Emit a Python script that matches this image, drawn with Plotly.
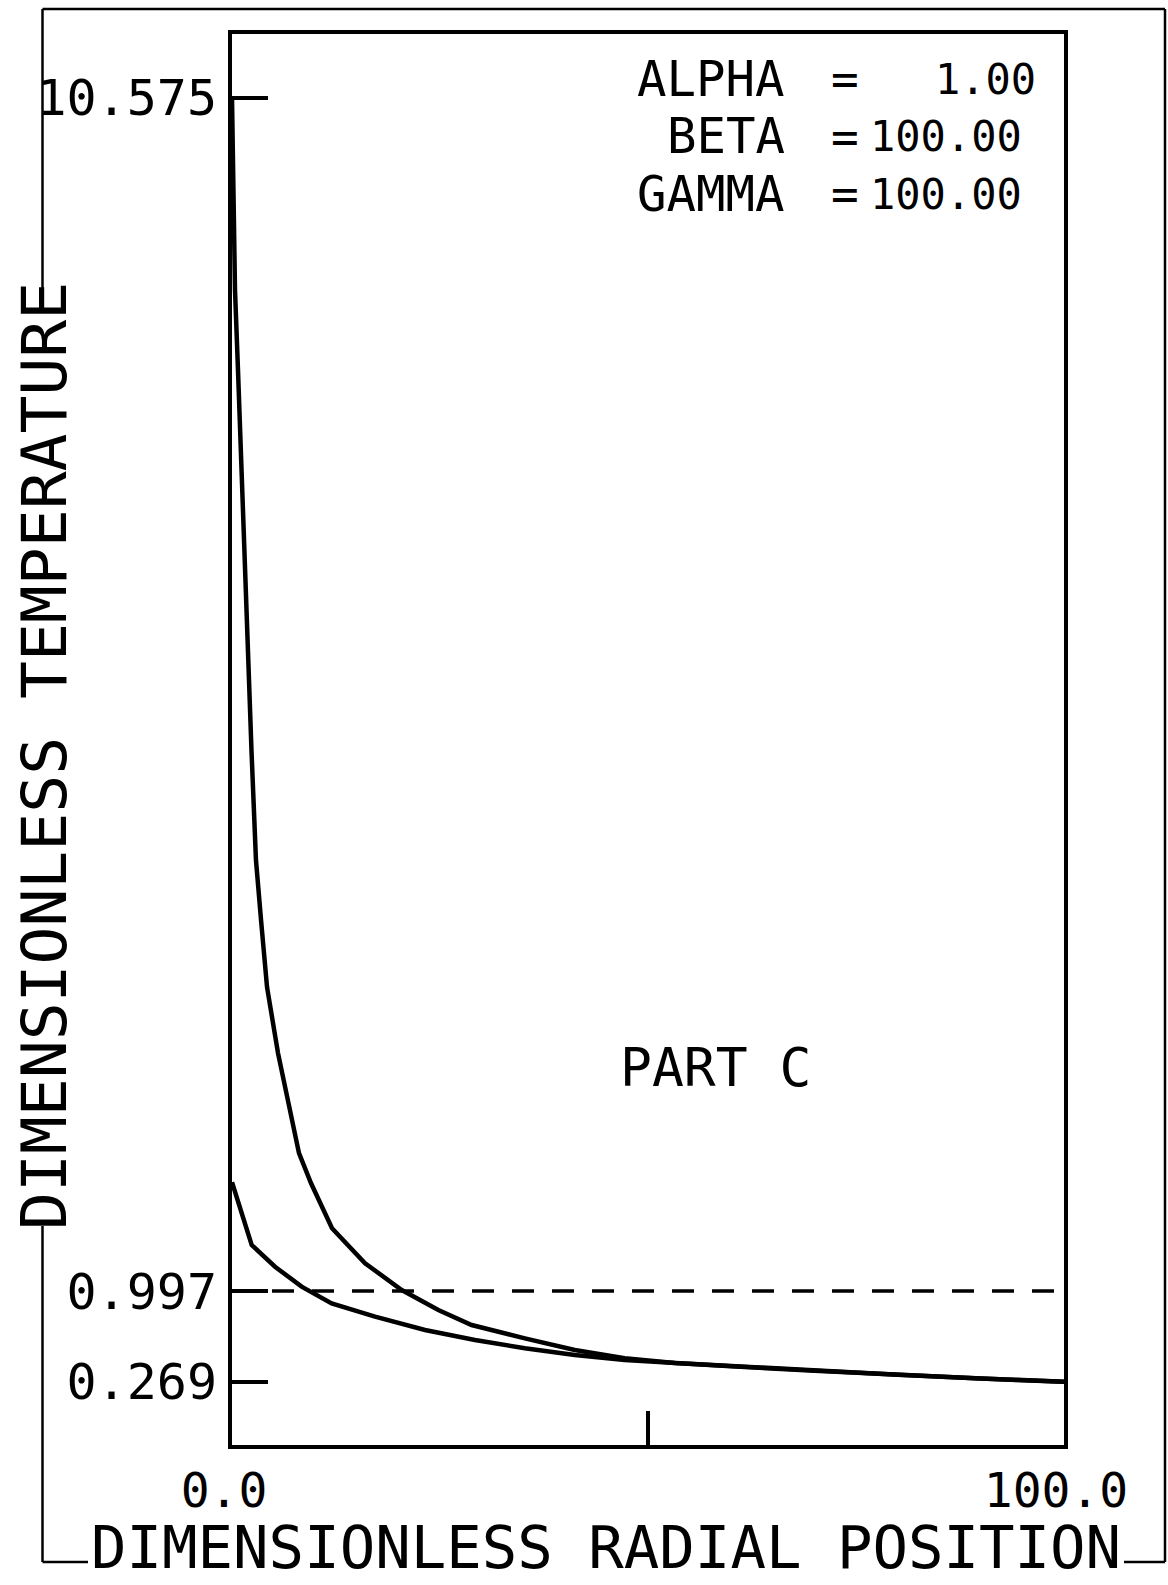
import plotly.graph_objects as go

# ---------------- data ----------------
x_upper = [0, 0.36, 0.72, 1.14, 1.86, 2.34, 2.88, 3.49, 4.21, 5.53, 7.09, 8.05, 9.50,
           12.02, 15.99, 20.4, 24.8, 28.8, 35.2, 41.2, 47.2, 53.2, 60, 70, 80, 90, 100]
t_upper = [10.575, 9.033, 8.391, 7.668, 6.247, 5.340, 4.457, 3.975, 3.437, 2.907, 2.425,
           2.104, 1.862, 1.501, 1.220, 1.005, 0.845, 0.724, 0.617, 0.523, 0.457, 0.420,
           0.395, 0.358, 0.325, 0.295, 0.269]

x_lower = [0, 2.37, 5.17, 8.37, 11.98, 17.19, 23.2, 29.2, 35.2, 41.2, 47.2, 53.2,
           60, 70, 80, 90, 100]
t_lower = [1.87, 1.366, 1.192, 1.032, 0.898, 0.791, 0.684, 0.604, 0.537, 0.483,
           0.443, 0.417, 0.393, 0.357, 0.324, 0.294, 0.269]

ref_level = 0.997
x_span = [0, 100]

y_tickvals = [10.575, 0.997, 0.269]
y_ticktext = ["10.575", "0.997", "0.269"]
x_tickvals = [0, 50, 100]
x_ticktext = ["0.0", "", "100.0"]

param_names = ["ALPHA", "BETA", "GAMMA"]
param_values = ["1.00", "100.00", "100.00"]

x_title = "DIMENSIONLESS RADIAL POSITION"
y_title = "DIMENSIONLESS TEMPERATURE"
part_label = "PART C"

# ---------------- layout geometry (pixels) ----------------
W, H = 1168, 1585
L, R, T, B = 232, 1064, 34, 1445
PW, PH = R - L, B - T
FONT = "DejaVu Sans Mono"


def px(X):
    return (X - L) / PW


def py(Y):
    return (B - Y) / PH


fig = go.Figure()
fig.add_trace(go.Scatter(x=x_upper, y=t_upper, mode="lines",
                         line=dict(color="black", width=4.5), showlegend=False))
fig.add_trace(go.Scatter(x=x_lower, y=t_lower, mode="lines",
                         line=dict(color="black", width=4.5), showlegend=False))
fig.add_trace(go.Scatter(x=x_span, y=[ref_level, ref_level], mode="lines",
                         line=dict(color="black", width=3.5, dash="22px,18px"),
                         showlegend=False))

# outer frame drawn as broken bracket around the titles
frame = dict(color="black", width=2.5)
XL, XR, YT, YB = 42.5, 1165, 9, 1562
segments = [
    (XL, YT, XR, YT),          # top
    (XR, YT, XR, YB),          # right
    (XL, YT, XL, 288),         # left upper
    (XL, 1226, XL, YB),        # left lower
    (XL, YB, 88, YB),          # bottom left
    (1124, YB, XR, YB),        # bottom right
]
shapes = []
for x0, y0, x1, y1 in segments:
    shapes.append(dict(type="line", xref="paper", yref="paper",
                       x0=px(x0), y0=py(y0), x1=px(x1), y1=py(y1), line=frame))

annotations = []
# axis titles
annotations.append(dict(text=x_title, xref="paper", yref="paper",
                        x=px(606), y=py(1547), xanchor="center", yanchor="middle",
                        showarrow=False, borderpad=0,
                        font=dict(family=FONT, size=59, color="black")))
annotations.append(dict(text=y_title, xref="paper", yref="paper", textangle=-90,
                        x=px(44), y=py(756), xanchor="center", yanchor="middle",
                        showarrow=False, font=dict(family=FONT, size=63, color="black")))
# parameter block
rows_y = [79, 136.5, 194]
val_right = [1037, 1023, 1023]
for name, val, yy, vr in zip(param_names, param_values, rows_y, val_right):
    annotations.append(dict(text=name, xref="paper", yref="paper", x=px(786), y=py(yy),
                            xanchor="right", yanchor="middle", showarrow=False,
                            borderpad=0, font=dict(family=FONT, size=49, color="black")))
    annotations.append(dict(text="=", xref="paper", yref="paper", x=px(845), y=py(yy),
                            xanchor="center", yanchor="middle", showarrow=False,
                            borderpad=0, font=dict(family=FONT, size=46, color="black")))
    annotations.append(dict(text=val, xref="paper", yref="paper", x=px(vr), y=py(yy),
                            xanchor="right", yanchor="middle", showarrow=False,
                            borderpad=0, font=dict(family=FONT, size=42, color="black")))
annotations.append(dict(text=part_label, xref="paper", yref="paper", x=px(715), y=py(1067),
                        xanchor="center", yanchor="middle", showarrow=False,
                        font=dict(family=FONT, size=53, color="black")))

y_lo = 0.269 - (B - 1381.7) * 0.008028
y_hi = 0.269 + (1381.7 - T) * 0.008028

fig.update_layout(
    width=W, height=H,
    margin=dict(l=L, r=W - R, t=T, b=H - B, autoexpand=False),
    paper_bgcolor="white", plot_bgcolor="white",
    font=dict(family=FONT, color="black"),
    shapes=shapes, annotations=annotations, showlegend=False,
    xaxis=dict(range=[0, 100], tickvals=x_tickvals, ticktext=x_ticktext,
               ticks="inside", ticklen=34, tickwidth=3.5, tickcolor="black",
               showline=True, linecolor="black", linewidth=4, mirror=True,
               showgrid=False, zeroline=False, ticklabelstandoff=0,
               ticklabelshift=-8,
               tickfont=dict(family=FONT, size=48, color="black")),
    yaxis=dict(range=[y_lo, y_hi], tickvals=y_tickvals, ticktext=y_ticktext,
               ticks="inside", ticklen=36, tickwidth=3.5, tickcolor="black",
               showline=True, linecolor="black", linewidth=4, mirror=True,
               showgrid=False, zeroline=False, ticklabelstandoff=1,
               tickfont=dict(family=FONT, size=50, color="black")),
)

fig.write_html(
    "out.html",
    config={"displayModeBar": False},
    post_script="document.body.style.margin='0';document.body.style.overflow='hidden';",
)
